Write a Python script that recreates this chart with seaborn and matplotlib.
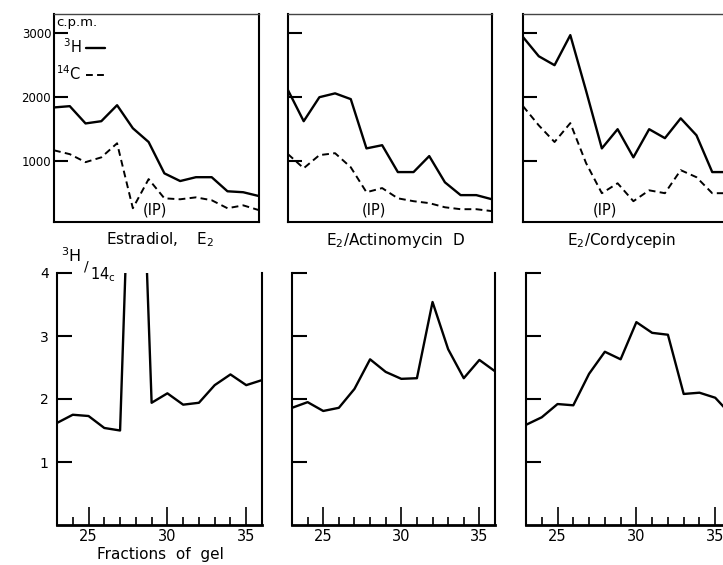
import matplotlib
matplotlib.use("Agg")
import matplotlib.pyplot as plt
from matplotlib.ticker import MultipleLocator
import seaborn as sns

sns.set_theme(style="white")
plt.rcParams["font.family"] = ["DejaVu Sans"]
plt.rcParams["mathtext.fontset"] = "dejavusans"
plt.rcParams["text.color"] = "black"
plt.rcParams["xtick.color"] = "black"
plt.rcParams["ytick.color"] = "black"

# gel fractions
fractions = list(range(23, 37))

# c.p.m. (top row)
estradiol_h3 = [1840, 1860, 1590, 1625, 1875, 1515, 1300, 810, 690, 750, 750, 530, 515, 455]
estradiol_c14 = [1170, 1110, 985, 1060, 1280, 265, 720, 420, 405, 435, 390, 265, 310, 235]
actino_h3 = [2110, 1625, 2000, 2060, 1970, 1200, 1250, 830, 830, 1080, 670, 470, 470, 405]
actino_c14 = [1110, 890, 1095, 1125, 905, 515, 580, 420, 375, 345, 280, 250, 250, 220]
cordy_h3 = [2940, 2640, 2500, 2970, 2100, 1200, 1500, 1060, 1500, 1360, 1670, 1405, 830, 830]
cordy_c14 = [1860, 1560, 1300, 1595, 970, 500, 655, 375, 545, 500, 860, 750, 500, 500]

# 3H/14C ratio (bottom row)
ratio_estradiol = [1.62, 1.75, 1.73, 1.54, 1.50, 9.0, 1.94, 2.09, 1.91, 1.94, 2.22, 2.39, 2.22, 2.30]
ratio_actino = [1.86, 1.95, 1.81, 1.86, 2.16, 2.63, 2.43, 2.32, 2.33, 3.54, 2.79, 2.33, 2.62, 2.44]
ratio_cordy = [1.59, 1.71, 1.92, 1.90, 2.40, 2.75, 2.63, 3.22, 3.05, 3.02, 2.08, 2.10, 2.02, 1.75]

panel_titles = ["Estradiol,    E$_2$", "E$_2$/Actinomycin  D", "E$_2$/Cordycepin"]
title_x = [160, 395, 622]
ip_x = [29.4, 28.5, 28.2]
cpm_ticks = [1000, 2000, 3000]
ratio_ticks = [1, 2, 3, 4]
x_major = [25, 30, 35]

W, H = 723, 565
fig = plt.figure(figsize=(W / 100, H / 100), dpi=100)
fig.patch.set_facecolor("white")

def box(x0, y0, x1, y1):
    # pixel box -> figure fraction
    return [x0 / W, 1 - y1 / H, (x1 - x0) / W, (y1 - y0) / H]

top_boxes = [box(54, 14, 259, 222), box(288, 14, 492, 222), box(523, 14, 728, 222)]
bot_boxes = [box(57, 273, 262, 525), box(292, 273, 495, 525), box(526, 273, 731, 525)]

dash = (0, (3.5, 2.2))
top_data = [(estradiol_h3, estradiol_c14), (actino_h3, actino_c14), (cordy_h3, cordy_c14)]
ratios = [ratio_estradiol, ratio_actino, ratio_cordy]

for i in range(3):
    ax = fig.add_axes(top_boxes[i])
    h3, c14 = top_data[i]
    sns.lineplot(x=fractions, y=h3, ax=ax, color="black", lw=1.7, label="$^3$H")
    sns.lineplot(x=fractions, y=c14, ax=ax, color="black", lw=1.4, linestyle=dash, label="$^{14}$C")
    ax.set_xlim(23, 36)
    ax.set_ylim(50, 3300)
    ax.set_xticks([])
    ax.set_yticks(cpm_ticks)
    ax.tick_params(axis="y", direction="in", length=10, width=1.5, color="black",
                   labelsize=8.5, pad=2, left=True)
    if i > 0:
        ax.set_yticklabels([])
    for s in ax.spines.values():
        s.set_color("black")
        s.set_linewidth(1.5)
    ax.spines["top"].set_linewidth(1.0)
    ax.spines["top"].set_color("#444444")
    ax.text(ip_x[i], 235, "(IP)", ha="center", va="center", fontsize=10.5)
    if i == 0:
        ax.legend(title="c.p.m.", loc="upper left", markerfirst=False, frameon=False,
                  handlelength=1.3, handletextpad=0.3, borderaxespad=0.05,
                  borderpad=0.1, labelspacing=0.55, fontsize=10.5, title_fontsize=9.5,
                  alignment="left")
    else:
        ax.get_legend().remove()
    fig.text(title_x[i] / W, 1 - 240 / H, panel_titles[i], ha="center", va="center", fontsize=11)

for i in range(3):
    ax = fig.add_axes(bot_boxes[i])
    sns.lineplot(x=fractions, y=ratios[i], ax=ax, color="black", lw=1.7)
    ax.set_xlim(23, 36)
    ax.set_ylim(0, 4)
    ax.set_yticks(ratio_ticks)
    ax.set_xticks(x_major)
    ax.xaxis.set_minor_locator(MultipleLocator(1))
    ax.tick_params(axis="y", direction="in", length=11, width=1.5, color="black",
                   labelsize=10, pad=6, left=True)
    ax.tick_params(axis="x", which="major", direction="in", length=13, width=1.2,
                   color="black", labelsize=10.5, pad=3, bottom=True)
    ax.tick_params(axis="x", which="minor", direction="in", length=6, width=1.2,
                   color="black", bottom=True)
    if i > 0:
        ax.set_yticklabels([])
    ax.spines["top"].set_visible(False)
    for k in ["left", "right", "bottom"]:
        ax.spines[k].set_color("black")
        ax.spines[k].set_linewidth(1.5)
    ax.spines["bottom"].set_linewidth(2.0)

# ratio label: 3H over a slash, 14C below
fig.text(61 / W, 1 - 256 / H, "$^3$H", fontsize=11.5, ha="left", va="center")
fig.text(86 / W, 1 - 266 / H, "/", fontsize=10, ha="center", va="center")
fig.text(90 / W, 1 - 275 / H, "14$_{\\mathrm{c}}$", fontsize=10.5, ha="left", va="center")
fig.text(160 / W, 1 - 555 / H, "Fractions  of  gel", ha="center", va="center", fontsize=11)

fig.savefig("out.png", dpi=100, facecolor="white")
